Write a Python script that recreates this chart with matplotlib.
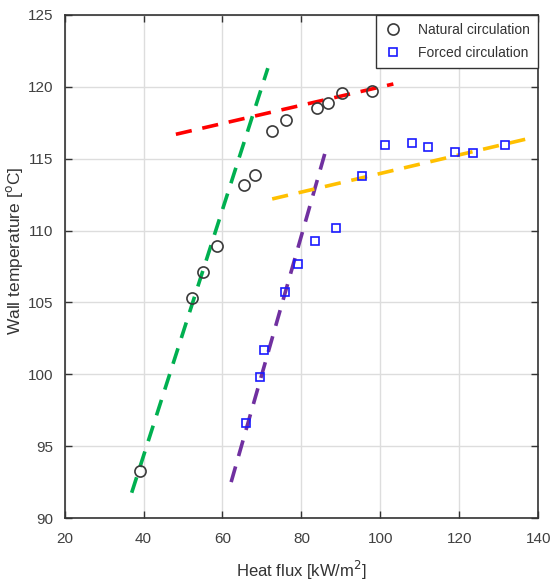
import matplotlib
matplotlib.use("Agg")
import matplotlib.pyplot as plt
import numpy as np

# Data
nat_x = [39.1, 52.3, 55.0, 58.5, 65.5, 68.2, 72.5, 76.2, 84.0, 86.8, 90.2, 98.0]
nat_y = [93.3, 105.3, 107.1, 108.9, 113.2, 113.9, 116.9, 117.7, 118.5, 118.9, 119.55, 119.7]
frc_x = [65.9, 69.5, 70.4, 75.9, 79.2, 83.5, 88.8, 95.3, 101.2, 108.1, 112.0, 119.0, 123.6, 131.5]
frc_y = [96.6, 99.8, 101.7, 105.7, 107.65, 109.3, 110.2, 113.8, 115.96, 116.1, 115.8, 115.45, 115.4, 115.95]

# Fit lines (endpoints)
green_x = [37.0, 71.5]
green_y = [91.76, 121.3]
purple_x = [62.2, 86.4]
purple_y = [92.5, 115.8]
red_x = [48.2, 103.3]
red_y = [116.7, 120.2]
orange_x = [72.6, 136.7]
orange_y = [112.2, 116.35]

xticks = [20, 40, 60, 80, 100, 120, 140]
yticks = [90, 95, 100, 105, 110, 115, 120, 125]

plt.rcParams['font.family'] = ['Liberation Sans', 'DejaVu Sans']

fig = plt.figure(figsize=(5.52, 5.88), dpi=100)
ax = fig.add_axes([0.117, 0.119, 0.858, 0.8555])

lw = 2.6
ax.plot(green_x, green_y, color='#00B050', lw=lw, dashes=(4.5, 3), zorder=2)
ax.plot(purple_x, purple_y, color='#7030A0', lw=lw, dashes=(4.5, 3), zorder=2)
ax.plot(red_x, red_y, color='#FF0000', lw=lw, dashes=(4.5, 3), zorder=2)
ax.plot(orange_x, orange_y, color='#FFC000', lw=lw, dashes=(4.5, 3), zorder=2)

ax.plot(nat_x, nat_y, 'o', mfc='none', mec='#3a3a3a', ms=8, mew=1.2,
        label='Natural circulation', zorder=3)
ax.plot(frc_x, frc_y, 's', mfc='none', mec='#1a1aff', ms=5.5, mew=1.2,
        label='Forced circulation', zorder=3)

ax.set_xlim(20, 140)
ax.set_ylim(90, 125)
ax.set_xticks(xticks)
ax.set_yticks(yticks)
ax.grid(True, color='#dddddd', lw=1.0)
ax.set_axisbelow(True)
ax.tick_params(direction='in', top=True, right=True, length=5, width=1,
               colors='#333333', labelcolor='#404040', labelsize=11)
ax.tick_params(axis='x', pad=10)
ax.tick_params(axis='y', pad=8)
for s in ax.spines.values():
    s.set_color('#333333')
    s.set_linewidth(1.2)

ax.set_xlabel('Heat flux [kW/m$^2$]', fontsize=12, color='#333333', labelpad=9)
ax.set_ylabel('Wall temperature [$^{\\mathrm{o}}$C]', fontsize=12.5, color='#333333')
ax.yaxis.set_label_coords(-0.084, 0.531)

leg = ax.legend(loc='upper right', fontsize=10, borderaxespad=0, fancybox=False,
                framealpha=1, edgecolor='#333333', handlelength=1.2,
                handletextpad=1.2, borderpad=0.6, labelspacing=0.6)
leg.get_frame().set_linewidth(1.0)
for t in leg.get_texts():
    t.set_color('#333333')

fig.savefig('out.png', dpi=100)
